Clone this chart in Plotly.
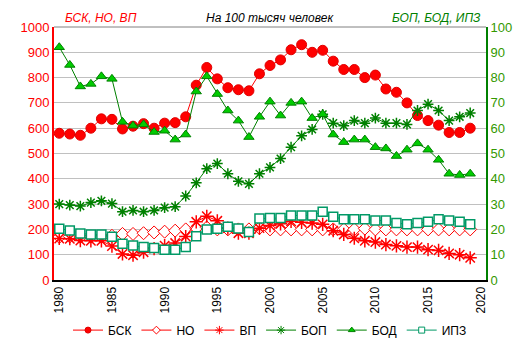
import plotly.graph_objects as go

years = list(range(1980, 2020))

bsk = [580, 577, 572, 600, 637, 635, 597, 608, 618, 600, 620, 622, 645, 770, 840, 795, 760, 752, 748, 815,
       848, 870, 910, 930, 900, 908, 865, 832, 832, 800, 810, 755, 742, 700, 650, 630, 612, 583, 583, 600]
no = [170, 172, 170, 172, 170, 175, 182, 182, 185, 188, 191, 195, 200, 205, 208, 200, 200, 200, 200, 205,
      200, 200, 200, 200, 200, 200, 200, 200, 200, 203, 200, 200, 200, 200, 200, 200, 200, 200, 200, 200]
vp = [164, 163, 156, 155, 155, 134, 103, 98, 110, 124, 136, 146, 172, 230, 252, 234, 205, 185, 185, 205,
      215, 222, 232, 228, 225, 220, 195, 180, 165, 155, 150, 140, 135, 130, 130, 120, 117, 105, 100, 88]
bop = [30, 29.6, 29.2, 30.6, 31.3, 30.2, 27, 27.5, 27, 27.5, 28.6, 29, 33.2, 38.4, 44, 46, 42, 39, 38, 42,
       44.5, 48, 52.5, 57, 59.5, 65.5, 62, 61, 63, 62, 64, 62, 62, 61.5, 67, 69.5, 67, 63, 64.5, 66]
bod = [92, 85, 76.5, 77.5, 80.5, 79.5, 62.5, 61, 61.5, 58.5, 59, 55.5, 57.5, 74.5, 80.5, 73.5, 67, 63, 56.5, 64.5,
       70.5, 65, 70, 70.5, 64, 65.5, 57.5, 54.5, 55.5, 55.5, 52.5, 52, 49, 51.5, 54, 51.5, 47.5, 42, 41.5, 42]
ipz = [20.3, 19.6, 18.4, 18, 18, 17.1, 14.3, 13.6, 13, 12.6, 12, 12, 13, 17.3, 20, 20.3, 21, 20.4, 19, 24.3,
       24.5, 24.5, 25.5, 25.5, 25.5, 27, 25, 24, 24, 24, 23.5, 23.5, 22.5, 22, 22.5, 23, 24, 23.5, 23, 22]

left_ticks = list(range(0, 1001, 100))
right_ticks = list(range(0, 101, 10))
x_ticks = list(range(1980, 2021, 5))

RED = "#FF0000"
GREEN = "#008000"
TEAL = "#009966"

series = [
    ("БСК", bsk, "y", RED, dict(symbol="circle", size=10, color=RED, line=dict(color="#E00000", width=1)),
     dict(symbol="circle", size=6, color=RED, line=dict(color="#E00000", width=1))),
    ("НО", no, "y", RED, dict(symbol="diamond", size=10, color="white", line=dict(color=RED, width=1)),
     dict(symbol="diamond", size=6, color="white", line=dict(color=RED, width=1))),
    ("ВП", vp, "y", RED, dict(symbol="asterisk-open", size=11, color=RED, line=dict(color=RED, width=1.5)),
     dict(symbol="asterisk-open", size=7, color=RED, line=dict(color=RED, width=1))),
    ("БОП", bop, "y2", GREEN, dict(symbol="asterisk-open", size=9, color=GREEN, line=dict(color=GREEN, width=1.5)),
     dict(symbol="asterisk-open", size=7, color=GREEN, line=dict(color=GREEN, width=1))),
    ("БОД", bod, "y2", GREEN, dict(symbol="triangle-up", size=9, color="#00CC00", line=dict(color=GREEN, width=1)),
     dict(symbol="triangle-up", size=6, color="#00CC00", line=dict(color=GREEN, width=1))),
    ("ИПЗ", ipz, "y2", TEAL, dict(symbol="square", size=9, color="white", line=dict(color=TEAL, width=1.5)),
     dict(symbol="square", size=6, color="white", line=dict(color=TEAL, width=1))),
]

fig = go.Figure()
for name, vals, ax, col, mk, lmk in series:
    fig.add_trace(go.Scatter(x=years, y=vals, name=name, mode="lines+markers", yaxis=ax,
                             line=dict(color=col, width=1), marker=mk, showlegend=False))
for name, vals, ax, col, mk, lmk in series:
    fig.add_trace(go.Scatter(x=[None], y=[None], name=name, mode="lines+markers", yaxis=ax,
                             line=dict(color=col, width=1), marker=lmk, showlegend=True))

font_family = "Liberation Sans, Arial, sans-serif"

fig.update_layout(
    width=516, height=349,
    margin=dict(l=36, r=35, t=15, b=76),
    paper_bgcolor="white", plot_bgcolor="white",
    font=dict(family=font_family, size=12, color="black"),
    xaxis=dict(range=[1979.5, 2020.5], tickvals=x_ticks, ticktext=[str(v) for v in x_ticks],
               tickangle=-90, showgrid=False, zeroline=False,
               showline=True, linecolor="black", linewidth=2, mirror=False,
               tickfont=dict(size=12, color="black")),
    yaxis=dict(range=[0, 1000], tickvals=left_ticks, showgrid=True, gridcolor="#C0C0C0", gridwidth=1,
               zeroline=False, showline=True, linecolor=RED, linewidth=2,
               tickfont=dict(size=13, color=RED)),
    yaxis2=dict(range=[0, 100], tickvals=right_ticks, overlaying="y", side="right", showgrid=False,
                zeroline=False, showline=True, linecolor=GREEN, linewidth=2,
                tickfont=dict(size=13, color="#339900")),
    legend=dict(orientation="h", x=0.5, xanchor="center", y=-0.198, yanchor="middle",
                font=dict(size=12, color="black"), bgcolor="rgba(0,0,0,0)", itemwidth=30,
                tracegroupgap=0),
    showlegend=True,
)

fig.add_shape(type="line", xref="paper", yref="paper", x0=0, x1=1, y0=1, y1=1,
              line=dict(color="#808080", width=1))

fig.add_annotation(text="<i>На 100 тысяч человек</i>", xref="paper", yref="paper", x=0.5, y=1.035,
                   xanchor="center", yanchor="middle", showarrow=False, font=dict(size=12, color="black"))
fig.add_annotation(text="<i>БСК, НО, ВП</i>", xref="paper", yref="paper", x=0.02, y=1.035,
                   xanchor="left", yanchor="middle", showarrow=False, font=dict(size=12, color=RED))
fig.add_annotation(text="<i>БОП, БОД, ИПЗ</i>", xref="paper", yref="paper", x=0.993, y=1.035,
                   xanchor="right", yanchor="middle", showarrow=False, font=dict(size=12, color=GREEN))

fig.write_html("out.html")
